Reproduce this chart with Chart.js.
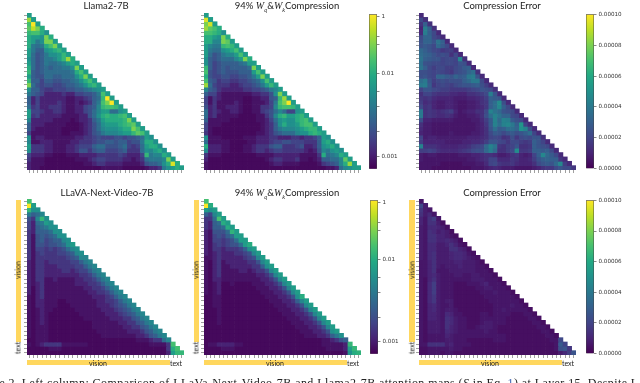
<!DOCTYPE html>
<html>
<head>
<meta charset="utf-8">
<script src="https://cdn.jsdelivr.net/npm/chart.js@4/dist/chart.umd.min.js"></script>
<style>
  html, body { margin: 0; background: #fff; }
  body { position: relative; width: 640px; height: 383px; overflow: hidden; }
  canvas { position: absolute; filter: blur(0.5px); }
  .title { position: absolute; font: 9.5px Lato, sans-serif; color: #222; white-space: nowrap; transform: translateX(-50%); line-height: 10px; filter: blur(0.25px); }
  .title i { font-family: "Liberation Serif", serif; font-size: 10px; }
  .title sub { font-size: 6px; line-height: 0; }
  .strip { position: absolute; background: #ffd75e; }
  .lab { position: absolute; font: 7px Lato, sans-serif; color: #222; white-space: nowrap; line-height: 7px; filter: blur(0.25px); }
  .rot { transform: translate(-50%, -50%) rotate(-90deg); }
  .mid { transform: translate(-50%, -50%); }
  #caption { position: absolute; left: -5px; top: 376px; font: 12px "Liberation Serif", serif; color: #222; white-space: nowrap; letter-spacing: 0.42px; filter: blur(0.3px); }
  #caption b { font-weight: normal; color: #3a5fb0; }
</style>
</head>
<body>
<script>
// attention scores are in units of 0.0001, errors in units of 0.000001
const llama2Scores = [
[75],
[1800,75],
[280,11000,75],
[500,3400,970,100],
[170,280,280,100,60],
[100,75,75,60,970,100],
[100,75,40,60,970,970,75],
[100,40,33,40,100,280,970,75],
[75,40,26,26,60,75,100,170,75],
[75,33,21,26,40,60,60,75,170,75],
[60,33,21,26,40,40,50,75,170,1800,100],
[75,33,21,26,40,33,33,40,50,75,100,75],
[100,33,21,26,33,26,33,33,40,40,60,970,75],
[170,26,21,26,33,33,33,33,33,33,40,100,280,75],
[75,26,21,21,33,33,26,26,33,33,33,60,100,970,75],
[170,26,26,17,26,26,21,21,26,26,33,40,60,100,280,75],
[970,33,21,17,21,21,17,17,21,26,26,33,40,60,100,170,75],
[60,26,26,17,14,14,17,17,17,21,21,26,26,33,40,50,60,75],
[40,26,21,17,11,11,11,11,14,11,11,17,17,21,21,26,40,280,75],
[26,11,17,11,11,11,11,11,11,9,9,11,11,14,17,26,33,170,11000,75],
[26,11,17,11,11,11,11,14,11,9,9,11,9,11,14,26,40,280,970,11000,75],
[33,14,17,11,11,14,14,14,11,9,9,11,11,17,21,26,50,170,280,280,170,75],
[75,17,17,14,11,11,14,14,11,9,9,11,11,17,21,33,50,75,75,33,33,60,75],
[75,14,17,11,11,11,11,11,9,9,9,9,11,11,21,33,60,100,170,100,100,170,280,75],
[50,11,11,11,11,11,9,9,9,9,8,9,11,11,14,26,40,75,100,100,100,100,170,970,75],
[26,11,11,11,9,9,9,9,9,8,8,8,9,11,14,21,33,60,75,75,75,100,170,280,500,75],
[26,11,9,9,9,9,9,9,8,8,8,8,9,11,14,21,33,50,60,60,60,75,100,100,970,280,75],
[17,9,9,9,9,9,9,9,8,8,9,9,9,11,14,21,26,40,50,50,50,60,75,75,170,500,280,75],
[60,9,11,11,9,9,9,9,9,9,9,11,11,14,14,17,21,17,17,17,21,21,17,21,21,26,33,75,60],
[50,9,9,11,11,11,9,9,9,9,11,11,14,14,14,17,21,21,26,26,21,26,26,17,21,21,40,100,100,60],
[75,14,14,14,11,11,9,9,9,11,11,14,17,17,17,26,33,33,21,21,21,26,33,17,14,17,33,75,100,100,60],
[60,14,14,14,11,11,9,9,9,11,11,14,21,21,14,21,26,26,17,17,17,21,26,14,14,14,33,60,50,75,100,60],
[17,11,11,11,9,9,8,8,8,9,9,9,11,11,11,11,14,14,14,14,14,17,14,11,11,11,17,170,40,50,50,100,75],
[14,9,9,9,8,8,8,8,8,8,8,9,9,9,11,14,17,17,14,14,14,14,11,11,9,11,14,33,40,40,40,50,970,75],
[11,9,9,9,8,8,8,8,8,8,8,8,8,9,9,11,14,14,11,11,11,11,9,9,9,9,11,21,26,26,33,60,100,6000,100],
[11,9,9,8,8,8,8,8,8,8,8,8,8,8,8,8,8,9,9,9,9,9,8,8,8,8,8,9,11,11,14,40,60,75,100,75]
];
const llama2Compressed = [
[75],
[6000,75],
[970,5000,75],
[1800,500,280,100],
[280,280,170,100,60],
[100,100,75,60,970,100],
[100,100,50,50,970,500,75],
[75,50,40,40,170,280,170,75],
[75,40,33,33,60,75,100,280,75],
[75,33,21,26,40,50,50,75,280,75],
[60,26,21,26,33,33,33,50,75,970,100],
[60,26,17,21,26,26,26,26,33,40,75,75],
[170,26,17,21,26,21,26,26,26,26,33,970,75],
[280,21,17,21,26,21,21,21,26,26,26,75,280,75],
[100,21,17,17,21,21,17,17,21,21,26,40,75,970,75],
[280,26,21,14,17,17,14,14,17,17,21,26,33,60,280,75],
[1800,33,17,14,14,14,11,11,14,17,17,21,26,40,75,170,75],
[50,26,21,14,11,11,11,11,11,14,14,17,17,21,26,40,50,75],
[26,17,17,11,9,9,9,9,9,9,9,11,11,14,14,21,60,970,75],
[17,9,14,11,9,9,9,9,9,8,8,9,9,11,11,21,26,170,1800,75],
[17,9,14,9,9,9,9,11,9,8,8,9,9,9,11,17,40,280,970,11000,75],
[21,11,14,9,9,11,11,11,9,8,8,9,9,14,14,17,50,170,280,280,170,75],
[33,11,14,11,9,9,11,11,9,8,8,9,9,14,17,21,33,50,33,17,17,60,75],
[33,11,14,9,9,9,9,9,8,8,8,8,9,9,14,21,50,100,170,75,75,100,170,75],
[26,9,9,9,9,9,8,8,8,8,8,8,9,9,11,17,33,60,75,60,60,100,170,280,75],
[17,9,9,9,8,8,8,8,8,8,8,8,8,9,11,14,26,60,100,60,60,75,170,280,280,75],
[17,9,8,8,8,8,8,8,8,8,8,8,8,9,11,14,26,40,50,50,50,60,75,100,170,170,75],
[14,9,8,8,8,8,8,8,8,8,8,8,9,9,11,14,21,26,33,33,33,50,60,60,100,170,100,75],
[60,9,9,9,8,8,8,8,8,9,9,9,11,11,11,14,14,11,11,11,14,14,11,14,14,17,26,75,60],
[33,9,9,9,9,9,8,8,8,8,9,9,11,11,11,14,17,17,21,21,17,17,17,14,14,14,26,75,100,60],
[100,11,11,11,9,9,8,8,8,9,9,11,14,14,14,21,26,26,14,14,14,17,21,11,11,14,26,60,75,100,60],
[50,11,11,11,9,9,8,8,8,9,9,11,14,14,11,14,17,17,14,14,14,14,14,11,9,11,21,50,40,60,75,60],
[14,9,9,9,8,8,8,8,8,8,8,8,9,9,9,9,11,11,11,11,11,11,9,9,9,9,14,100,33,40,50,100,75],
[11,8,8,8,8,8,8,8,8,8,8,8,8,8,9,11,14,14,11,11,11,14,9,9,8,9,11,26,26,33,33,50,500,75],
[9,8,8,8,8,8,8,8,8,8,8,8,8,8,8,9,11,11,9,9,9,9,8,8,8,8,9,14,17,21,26,50,100,1800,75],
[9,8,8,8,8,8,8,8,8,8,8,8,8,8,8,8,8,8,8,8,8,8,8,8,8,8,8,8,9,9,11,33,50,60,75,75]
];
const llama2Error = [
[12],
[22,14],
[15,30,14],
[10,42,30,14],
[12,42,30,22,12],
[22,32,32,22,18,12],
[24,32,32,26,38,30,12],
[25,28,26,22,34,28,22,12],
[34,30,26,22,20,16,18,18,12],
[35,32,30,26,22,24,22,14,22,12],
[38,30,28,26,26,20,22,22,20,45,14],
[36,25,24,22,22,20,22,22,20,26,24,12],
[38,30,22,18,22,22,18,18,22,24,28,30,12],
[24,24,22,20,22,20,18,16,22,24,26,32,36,14],
[24,26,22,20,32,32,28,26,32,28,30,40,42,26,12],
[36,40,26,18,22,24,22,24,24,24,30,34,40,40,22,12],
[40,42,28,16,20,22,20,18,22,24,26,26,28,30,24,18,12],
[20,26,26,22,20,18,18,16,16,16,16,18,20,22,26,24,22,14],
[14,20,20,16,14,14,14,12,12,10,10,14,14,16,18,22,42,26,12],
[16,14,16,12,10,10,10,10,8,8,8,10,10,12,14,18,30,28,26,12],
[18,12,14,10,8,8,10,10,8,6,6,8,8,10,14,16,30,36,48,24,12],
[22,14,16,10,8,8,10,10,8,6,6,8,8,10,12,16,30,36,46,30,22,12],
[40,14,16,14,12,14,16,18,10,6,8,10,10,14,14,22,44,38,34,26,24,22,12],
[40,14,16,14,12,12,14,12,8,6,6,8,8,10,14,24,36,44,38,32,32,22,20,12],
[24,10,10,8,8,8,8,8,6,6,6,6,8,8,12,18,28,44,34,44,42,28,24,22,12],
[14,8,8,6,6,6,6,6,6,6,6,6,6,8,10,16,28,44,36,44,46,40,30,52,20,12],
[12,8,8,6,6,6,6,6,6,6,6,6,6,8,10,14,26,36,28,30,36,36,32,50,44,24,12],
[10,8,8,6,6,6,6,8,6,6,6,6,8,8,10,14,22,28,26,22,26,28,24,26,30,36,20,12],
[20,8,10,10,8,8,8,8,8,8,8,10,10,10,12,14,20,22,20,14,16,24,16,22,24,22,26,26,14],
[18,10,10,10,10,10,8,8,8,8,10,10,12,12,14,18,26,26,22,20,16,22,22,18,16,18,30,26,20,12],
[44,14,14,14,12,10,10,10,10,12,12,14,18,20,22,34,44,38,16,14,18,20,26,14,14,16,30,26,24,22,12],
[18,18,20,18,14,12,12,12,12,14,16,18,22,24,24,34,42,34,14,14,18,22,48,16,16,18,30,30,28,30,22,12],
[8,6,8,8,6,6,6,6,6,8,8,8,10,10,12,14,14,12,8,8,10,14,16,10,8,10,20,30,46,34,28,22,12],
[8,6,6,6,6,6,6,6,6,6,6,8,8,10,12,14,20,20,12,12,12,16,14,10,10,12,18,26,30,32,30,30,16,12],
[6,6,6,6,6,4,4,4,4,4,6,6,6,8,8,12,20,22,16,14,14,16,12,10,10,10,14,22,26,28,26,34,46,18,12],
[6,6,6,4,4,4,4,4,4,4,4,4,6,6,6,8,10,12,10,8,8,8,6,6,6,6,8,10,14,16,16,22,26,22,22,16]
];
const llavaScores = [
[280],
[11000,75],
[170,60,60],
[40,26,33,50],
[21,14,50,170,60],
[17,11,33,40,75,60],
[17,11,26,33,40,60,60],
[14,11,26,26,26,33,60,60],
[14,9,21,26,21,26,33,60,60],
[14,9,21,26,17,21,26,26,50,60],
[14,9,21,21,17,21,21,26,33,60,75],
[14,9,17,17,14,17,14,17,21,33,50,60],
[14,9,14,17,14,14,14,17,17,21,26,50,60],
[14,9,14,14,14,14,14,14,14,17,21,26,50,50],
[11,9,14,14,11,14,14,14,14,14,17,17,26,40,50],
[11,9,14,14,11,11,11,14,14,14,14,17,17,26,40,50],
[11,9,14,14,11,11,11,11,14,14,11,14,17,17,26,40,50],
[11,9,14,14,11,11,11,11,11,11,11,11,14,14,17,26,40,50],
[11,9,14,14,9,9,11,9,9,9,9,11,11,14,14,17,26,40,50],
[11,9,11,14,9,9,9,9,9,9,9,11,11,11,14,14,17,26,40,50],
[11,8,11,14,9,9,9,9,9,9,9,9,9,11,11,14,14,17,26,40,50],
[11,8,11,14,9,9,9,9,9,9,9,9,9,9,11,11,14,14,17,26,40,50],
[9,8,11,14,9,9,9,9,9,9,9,9,9,9,9,11,11,11,14,17,26,40,50],
[9,8,11,11,9,9,9,8,8,9,9,9,9,9,9,9,11,11,14,14,17,26,40,50],
[9,8,11,11,9,9,9,8,8,8,9,9,9,9,9,9,11,11,11,14,17,21,26,40,50],
[9,8,9,11,9,9,8,8,8,8,8,9,9,9,9,9,9,11,11,11,14,17,21,26,40,50],
[9,8,9,11,9,8,8,8,8,8,8,8,9,9,9,9,9,9,11,11,11,14,17,21,26,40,50],
[9,8,9,11,9,8,8,8,8,8,8,8,8,9,9,9,9,9,9,11,11,11,14,14,21,26,40,50],
[9,8,9,11,9,8,8,8,8,8,8,8,8,8,8,9,9,9,9,9,9,11,11,14,14,21,26,40,50],
[9,8,9,9,9,8,8,8,8,8,8,8,8,8,8,9,9,9,9,9,9,9,11,11,14,14,21,26,40,50],
[9,8,9,9,9,8,8,8,8,8,8,8,8,8,8,8,9,9,9,9,9,9,9,11,11,11,14,21,26,40,50],
[9,8,9,9,9,8,8,8,8,8,8,8,8,8,8,8,8,9,9,9,9,9,9,9,9,11,11,14,21,26,40,50],
[8,8,9,9,9,8,8,8,8,8,8,8,8,8,8,8,8,8,8,8,8,8,8,8,8,9,9,9,11,14,14,33,50],
[9,8,9,11,14,14,14,14,9,9,9,9,9,9,8,8,8,8,8,8,8,8,8,8,8,8,8,8,9,9,9,9,14,280],
[8,8,8,8,8,9,9,9,8,8,8,8,8,8,8,8,8,8,8,8,8,8,8,8,8,8,8,8,8,8,8,8,14,100,280],
[8,8,8,8,8,8,8,8,8,8,8,8,8,8,8,8,8,8,8,8,8,8,8,8,8,8,8,8,8,8,8,8,11,75,170,170]
];
const llavaCompressed = [
[280],
[11000,100],
[75,60,75],
[26,17,50,75],
[14,14,33,280,75],
[14,11,26,33,100,75],
[14,11,26,26,33,100,75],
[11,9,21,21,21,33,140,75],
[11,9,17,21,17,26,33,75,75],
[11,9,17,17,14,17,21,33,75,75],
[11,9,14,17,14,17,21,21,33,75,100],
[11,9,14,14,11,14,14,14,17,26,60,75],
[11,9,11,14,11,11,11,14,14,17,21,50,75],
[9,9,11,14,11,11,11,11,11,14,17,21,50,75],
[9,8,11,14,9,11,11,11,11,11,14,14,21,50,75],
[9,8,11,14,9,9,11,11,11,11,11,14,14,26,60,75],
[9,8,11,14,9,9,9,9,11,11,9,11,14,14,21,50,75],
[9,8,11,14,9,9,9,9,9,9,9,9,11,11,14,21,50,75],
[9,8,11,11,9,9,9,9,9,9,9,9,9,11,11,14,21,50,75],
[9,8,9,11,8,8,9,8,8,8,8,9,9,9,11,11,14,21,50,75],
[9,8,9,11,8,8,8,8,8,8,8,8,9,9,9,11,11,14,21,50,75],
[9,8,9,11,8,8,8,8,8,8,8,8,8,9,9,9,11,11,14,21,50,75],
[8,8,9,9,8,8,8,8,8,8,8,8,8,8,9,9,9,11,11,14,21,60,100],
[8,8,9,9,8,8,8,8,8,8,8,8,8,8,8,9,9,9,11,11,14,26,50,75],
[8,8,9,9,8,8,8,8,8,8,8,8,8,8,8,8,9,9,9,11,11,14,21,50,75],
[8,8,8,9,8,8,8,8,8,8,8,8,8,8,8,8,8,9,9,9,11,11,14,21,50,75],
[8,8,8,9,8,8,8,8,8,8,8,8,8,8,8,8,8,8,9,9,9,11,11,14,21,50,75],
[8,8,8,9,8,8,8,8,8,8,8,8,8,8,8,8,8,8,8,9,9,9,11,11,14,21,50,75],
[8,8,8,9,8,8,8,8,8,8,8,8,8,8,8,8,8,8,8,8,9,9,9,11,11,14,21,50,75],
[8,8,8,8,8,8,8,8,8,8,8,8,8,8,8,8,8,8,8,8,8,9,9,9,11,11,14,21,50,75],
[8,8,8,8,8,8,8,8,8,8,8,8,8,8,8,8,8,8,8,8,8,8,9,9,9,11,11,14,21,60,75],
[8,8,8,8,8,8,8,8,8,8,8,8,8,8,8,8,8,8,8,8,8,8,8,9,9,9,11,11,14,26,40,60],
[8,8,8,8,8,8,8,8,8,8,8,8,8,8,8,8,8,8,8,8,8,8,8,8,8,8,8,9,9,11,14,21,26],
[8,9,9,11,11,11,11,9,9,8,8,8,8,8,8,8,8,8,8,8,8,8,8,8,8,8,8,9,9,9,9,9,11,170],
[8,8,8,8,9,9,9,8,8,8,8,8,8,8,8,8,8,8,8,8,8,8,8,8,8,8,8,8,9,9,9,9,11,75,170],
[8,8,8,8,8,8,8,8,8,8,8,8,8,8,8,8,8,8,8,8,8,8,8,8,8,8,8,8,8,8,8,8,9,60,100,140]
];
const llavaError = [
[6],
[22,8],
[16,8,6],
[14,8,12,6],
[10,6,14,18,6],
[10,6,14,14,8,4],
[8,6,12,12,10,8,4],
[8,6,14,12,8,10,8,4],
[8,6,14,14,10,10,8,6,4],
[8,6,14,14,10,10,12,10,8,4],
[8,6,12,12,8,8,10,14,10,6,4],
[8,6,12,12,8,8,8,14,14,10,8,4],
[8,6,12,14,8,8,8,10,12,12,10,6,4],
[8,6,12,14,8,8,8,10,12,12,10,8,6,4],
[6,6,10,14,8,8,8,8,10,10,8,8,8,6,4],
[6,6,10,14,8,6,8,8,8,10,8,8,8,6,6,4],
[6,6,10,14,6,6,6,8,8,8,8,8,8,6,6,6,4],
[6,6,10,12,8,6,6,6,8,8,6,6,8,8,6,6,6,4],
[6,4,10,14,8,6,6,6,6,6,6,6,8,8,8,6,6,6,4],
[6,4,12,18,8,6,6,6,4,4,4,6,6,6,8,10,6,6,6,4],
[6,4,12,18,8,6,6,6,4,4,4,4,4,6,6,8,8,6,6,6,4],
[6,4,12,18,8,6,6,6,4,4,4,4,4,4,6,6,6,8,6,6,6,4],
[6,4,12,16,8,6,6,6,4,4,4,4,4,4,4,6,6,6,6,6,6,6,4],
[6,4,12,16,8,6,8,8,4,4,4,4,4,4,4,4,6,6,6,6,6,6,6,4],
[6,4,10,12,8,6,6,8,4,4,4,4,4,4,4,4,4,6,6,6,6,8,6,6,4],
[6,4,10,12,8,6,8,8,6,4,4,4,4,4,4,4,4,6,6,8,6,6,6,6,6,4],
[6,4,10,10,8,6,12,10,6,6,4,4,4,4,6,6,4,6,6,6,6,4,4,4,6,6,4],
[6,4,10,10,8,6,14,12,8,6,6,4,4,4,6,6,6,6,6,6,4,4,4,4,4,6,6,4],
[6,4,8,8,8,6,14,12,8,6,6,4,4,4,6,8,8,6,6,6,4,4,4,4,4,4,6,6,4],
[6,4,8,8,8,6,14,10,8,6,6,4,4,6,8,8,8,6,4,4,4,4,4,4,4,4,4,6,6,4],
[6,4,8,8,8,6,12,10,8,6,6,6,6,6,6,8,6,6,4,4,4,4,4,4,4,4,4,4,6,6,4],
[6,4,6,6,6,6,10,8,6,6,6,6,6,6,6,6,6,6,6,6,4,4,4,4,4,4,4,4,4,6,6,4],
[6,4,6,6,6,6,8,8,6,6,6,4,4,4,4,4,4,6,6,6,4,4,4,4,4,4,4,4,4,4,6,6,22],
[6,6,14,14,14,14,8,10,6,6,6,6,4,4,4,4,4,4,4,4,4,4,4,4,4,4,4,4,4,4,4,6,28,20],
[4,4,6,6,6,6,6,8,6,6,4,4,4,4,4,4,4,4,4,4,4,4,4,4,4,4,4,4,4,4,4,6,24,26,16],
[4,4,6,6,6,4,6,6,4,4,4,4,4,4,4,4,4,4,4,4,4,4,4,4,4,4,4,4,4,4,4,4,8,12,18,26]
];

const scoreTicks = [1, 0.01, 0.001];
const scoreMinorTicks = [0.2, 0.1, 0.006, 0.004, 0.002];
const errorTicks = [0.0001, 0.00008, 0.00006, 0.00004, 0.00002, 0];
const titles = ['Llama2-7B', 'Compression Error', 'LLaVA-Next-Video-7B'];
const captionText = 're 2. Left column: Comparison of LLaVa-Next-Video-7B and Llama2-7B attention maps (<i>S</i> in Eq. <b>1</b>) at Layer 15. Despite L';

const viridis = ['#440154','#482475','#414487','#355f8d','#2a788e','#21918c','#22a884','#44bf70','#7ad151','#bddf26','#fde725'];

function hexRgb(h){
  return [parseInt(h.slice(1,3),16), parseInt(h.slice(3,5),16), parseInt(h.slice(5,7),16)];
}

function viridisColor(t){
  t = Math.min(1, Math.max(0, t));
  let p = t * 10;
  let i = Math.min(9, Math.floor(p));
  let a = hexRgb(viridis[i]);
  let b = hexRgb(viridis[i+1]);
  let f = p - i;
  return `rgb(${a.map((v,k) => Math.round(v + (b[k]-v)*f)).join(',')})`;
}

// colorbar of the attention panels: decades are not evenly spaced on it
function scorePos(v){
  if(v <= 0.01){
    return 0.076 + 0.541 * Math.log10(v/0.001);
  }
  return 0.617 + 0.185 * Math.log10(v/0.01);
}

function addCanvas(left, top, w, h){
  const c = document.createElement('canvas');
  c.width = w;
  c.height = h;
  c.style.left = left + 'px';
  c.style.top = top + 'px';
  c.style.width = w + 'px';
  c.style.height = h + 'px';
  document.body.appendChild(c);
  return c;
}

function addText(cls, text, x, y){
  const d = document.createElement('div');
  d.className = cls;
  d.innerHTML = text;
  d.style.left = x + 'px';
  d.style.top = y + 'px';
  document.body.appendChild(d);
  return d;
}

function addStrip(x, y, w, h){
  const d = document.createElement('div');
  d.className = 'strip';
  d.style.left = x + 'px';
  d.style.top = y + 'px';
  d.style.width = w + 'px';
  d.style.height = h + 'px';
  document.body.appendChild(d);
}

function drawHeatmap(rows, colorOf, x0, y0, plotH){
  const labels = rows.map((r,i) => i);
  const datasets = rows.map((row, r) => ({
    data: labels.map(c => c < row.length ? [r, r+1] : null),
    backgroundColor: labels.map(c => c < row.length ? colorOf(row[c]) : 'transparent'),
    grouped: false,
    barPercentage: 1,
    categoryPercentage: 1
  }));
  new Chart(addCanvas(x0-3, y0, 160, plotH+3), {
    type: 'bar',
    data: { labels: labels, datasets: datasets },
    options: {
      responsive: false,
      animation: false,
      events: [],
      layout: { padding: 0 },
      plugins: { legend: { display: false }, tooltip: { enabled: false } },
      scales: {
        x: {
          afterFit(s){ s.height = 3; },
          ticks: { display: false },
          border: { display: false },
          grid: { offset: false, drawOnChartArea: false, tickLength: 3, tickColor: '#777', tickWidth: 0.7 }
        },
        y: {
          reverse: true,
          min: 0,
          max: rows.length,
          afterFit(s){ s.width = 3; },
          afterBuildTicks(s){ s.ticks = labels.map(i => ({ value: i + 0.5 })); },
          ticks: { display: false },
          border: { display: false },
          grid: { drawOnChartArea: false, tickLength: 3, tickColor: '#777', tickWidth: 0.7 }
        }
      }
    }
  });
}

function drawColorbar(x0, y0, plotH, ticks, posOf, labelOf){
  new Chart(addCanvas(x0, y0-4, 50, plotH+8), {
    type: 'bar',
    data: {
      labels: [''],
      datasets: [{
        data: [[0, 1]],
        backgroundColor(ctx){
          const area = ctx.chart.chartArea;
          if(!area) return viridis[0];
          const g = ctx.chart.ctx.createLinearGradient(0, area.bottom, 0, area.top);
          viridis.forEach((c,i) => g.addColorStop(i/10, c));
          return g;
        },
        borderColor: '#444',
        borderWidth: 0.8,
        barPercentage: 1,
        categoryPercentage: 1
      }]
    },
    options: {
      responsive: false,
      animation: false,
      events: [],
      layout: { padding: { top: 4, bottom: 4 } },
      plugins: { legend: { display: false }, tooltip: { enabled: false } },
      scales: {
        x: { display: false },
        y: {
          position: 'right',
          min: 0,
          max: 1,
          afterFit(s){ s.width = 42; },
          afterBuildTicks(s){ s.ticks = ticks.map(v => ({ value: posOf(v), label: labelOf(v) })); },
          afterTickToLabelConversion(s){ s.ticks.forEach((t,i) => { t.label = labelOf(ticks[i]); }); },
          ticks: { color: '#333', padding: 2, autoSkip: false, font: { family: 'DejaVu Sans', size: 5.6 } },
          border: { display: false },
          grid: { drawOnChartArea: false, tickLength: 2.5, tickColor: '#555', tickWidth: 0.7 }
        }
      }
    }
  });
}

const scoreColor = v => viridisColor(scorePos(v * 1e-4));
const errorColor = v => viridisColor(v / 100);
const scoreLabel = v => scoreTicks.includes(v) ? String(v) : '';
const errorLabel = v => v.toFixed(5);
const errorPos = v => v / 0.0001;
const compressionTitle = '94% <i>W<sub>q</sub></i>&amp;<i>W<sub>k</sub></i>Compression';

// top row
drawHeatmap(llama2Scores, scoreColor, 27, 13, 157);
drawHeatmap(llama2Compressed, scoreColor, 204, 13, 157);
drawHeatmap(llama2Error, errorColor, 419, 13, 157);
drawColorbar(369, 13, 157, scoreTicks.concat(scoreMinorTicks), scorePos, scoreLabel);
drawColorbar(586, 13, 157, errorTicks, errorPos, errorLabel);
addText('title', titles[0], 106, 1);
addText('title', compressionTitle, 287, 1);
addText('title', titles[1], 502, 1);

// bottom row
drawHeatmap(llavaScores, scoreColor, 27, 199, 156);
drawHeatmap(llavaCompressed, scoreColor, 204, 199, 156);
drawHeatmap(llavaError, errorColor, 419, 199, 156);
drawColorbar(370, 199, 156, scoreTicks.concat(scoreMinorTicks), scorePos, scoreLabel);
drawColorbar(586, 199, 156, errorTicks, errorPos, errorLabel);
addText('title', titles[2], 107, 188);
addText('title', compressionTitle, 287, 188);
addText('title', titles[1], 502, 188);

// modality strips of the bottom row
[[15.5, 27], [193.5, 204], [409, 419]].forEach(p => {
  addStrip(p[0], 200, 5.5, 142);
  addText('lab rot', 'vision', p[0] + 2.8, 270);
  addText('lab rot', 'text', p[0] + 2.8, 348);
  addStrip(p[1], 360, 143, 5);
  addText('lab mid', 'vision', p[1] + 71, 362.5);
  addText('lab mid', 'text', p[1] + 149, 362.5);
});

const cap = document.createElement('div');
cap.id = 'caption';
cap.innerHTML = captionText;
document.body.appendChild(cap);
</script>
</body>
</html>
